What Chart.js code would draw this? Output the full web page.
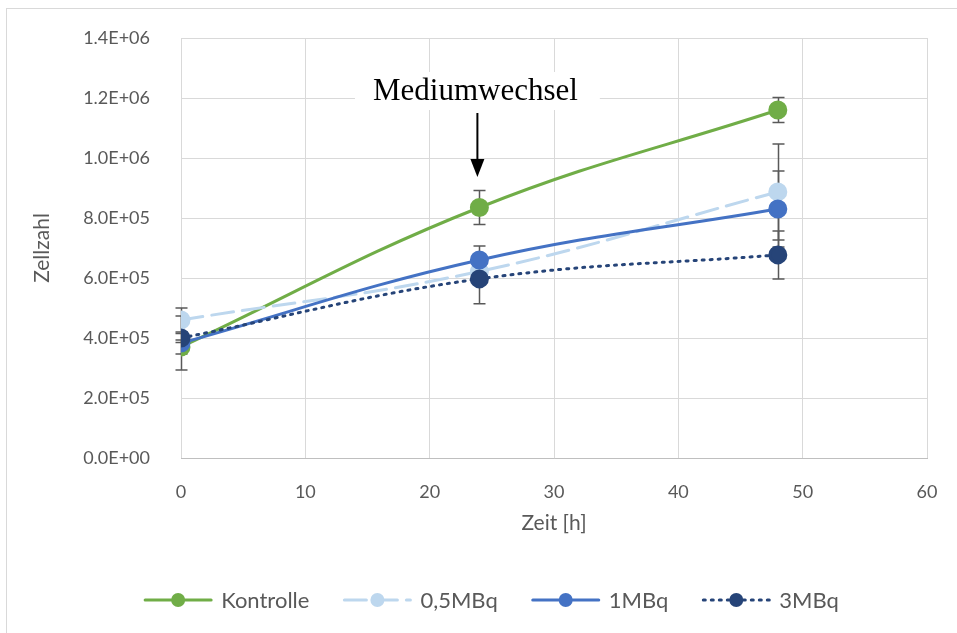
<!DOCTYPE html>
<html>
<head>
<meta charset="utf-8">
<script src="https://cdn.jsdelivr.net/npm/chart.js@4"></script>
<style>
  html, body { margin: 0; padding: 0; background: #fff; }
  #wrap { width: 957px; height: 633px; }
</style>
</head>
<body>
<div id="wrap"><canvas id="zellChart" width="957" height="633"></canvas></div>
<script>
// Zeitpunkte [h]
const times = [0, 24, 48];

// Zellzahl je Gruppe
const kontrolle = [370000, 835000, 1160000];
const mbq05 = [460000, 622000, 887000];
const mbq1 = [383000, 660000, 830000];
const mbq3 = [400000, 597000, 677000];

// Fehlerbalken (+/-)
const errKontrolle = [23000, 57000, 42000];
const errMbq05 = [40000, 30000, 160000];
const errMbq1 = [90000, 47000, 127000];
const errMbq3 = [15000, 83000, 80000];

const seriesNames = ['Kontrolle', '0,5MBq', '1MBq', '3MBq'];
const xTicks = [0, 10, 20, 30, 40, 50, 60];
const yTicks = [0, 200000, 400000, 600000, 800000, 1000000, 1200000, 1400000];

const annotText = 'Mediumwechsel';

const FONT = 'Lato, "Open Sans", sans-serif';

function sci(v) {
   if (v === 0) return '0.0E+00';
   const exp = Math.floor(Math.log10(v));
   const mant = v / Math.pow(10, exp);
   return mant.toFixed(1) + 'E+' + String(exp).padStart(2, '0');
}

function points(vals) {
   return vals.map((v, i) => ({ x: times[i], y: v }));
}

const colors = ['#70AD47', '#BDD7EE', '#4472C4', '#264478'];
const dashes = [[], [22, 9], [], [2, 6]];
const errors = [errKontrolle, errMbq05, errMbq1, errMbq3];
const values = [kontrolle, mbq05, mbq1, mbq3];

const datasets = values.map((vals, i) => ({
   label: seriesNames[i],
   data: points(vals),
   borderColor: colors[i],
   backgroundColor: colors[i],
   pointBackgroundColor: colors[i],
   pointBorderColor: colors[i],
   borderWidth: 3,
   borderDash: dashes[i],
   borderCapStyle: 'round',
   pointRadius: 8,
   pointHoverRadius: 8,
   tension: 0.4,
   order: 3 - i,
   errs: errors[i]
}));

// Fehlerbalken unter den Linien
const errorBars = {
   id: 'errorBars',
   beforeDatasetsDraw(chart) {
      const ctx = chart.ctx;
      const xs = chart.scales.x, ys = chart.scales.y;
      ctx.save();
      ctx.strokeStyle = '#595959';
      ctx.lineWidth = 1.5;
      chart.data.datasets.forEach(ds => {
         ds.data.forEach((p, i) => {
            const e = ds.errs[i];
            const px = Math.round(xs.getPixelForValue(p.x)) + 0.5;
            const top = ys.getPixelForValue(p.y + e);
            const bot = ys.getPixelForValue(p.y - e);
            ctx.beginPath();
            ctx.moveTo(px, top); ctx.lineTo(px, bot);
            ctx.moveTo(px - 6, top); ctx.lineTo(px + 6, top);
            ctx.moveTo(px - 6, bot); ctx.lineTo(px + 6, bot);
            ctx.stroke();
         });
      });
      ctx.restore();
   }
};

// Rahmen, Beschriftung "Mediumwechsel" und Legende
const extras = {
   id: 'extras',
   beforeDraw(chart) {
      const ctx = chart.ctx;
      ctx.save();
      ctx.fillStyle = '#fff';
      ctx.fillRect(0, 0, chart.width, chart.height);
      ctx.strokeStyle = '#D9D9D9';
      ctx.lineWidth = 1;
      ctx.strokeRect(6.5, 8.5, chart.width + 10, chart.height + 10);
      ctx.restore();
   },
   afterDraw(chart) {
      const ctx = chart.ctx;
      const xs = chart.scales.x, ys = chart.scales.y;
      const ax = xs.getPixelForValue(24) - 2;
      ctx.save();
      ctx.font = '31px "Liberation Serif", "Times New Roman", serif';
      const tw = ctx.measureText(annotText).width;
      const ty = ys.getPixelForValue(1220000);
      ctx.fillStyle = '#fff';
      ctx.fillRect(ax - tw / 2 - 20, ty - 20, tw + 40, 38);
      ctx.fillStyle = '#000';
      ctx.textAlign = 'center';
      ctx.textBaseline = 'middle';
      ctx.fillText(annotText, ax - 2, ty);
      const y1 = ys.getPixelForValue(1150000);
      const y2 = ys.getPixelForValue(937000);
      ctx.strokeStyle = '#000';
      ctx.lineWidth = 2;
      ctx.beginPath();
      ctx.moveTo(ax, y1); ctx.lineTo(ax, y2 - 14);
      ctx.stroke();
      ctx.beginPath();
      ctx.moveTo(ax - 7, y2 - 18); ctx.lineTo(ax + 7, y2 - 18); ctx.lineTo(ax, y2);
      ctx.closePath();
      ctx.fill();

      // Legende
      ctx.font = '22px ' + FONT;
      ctx.textBaseline = 'middle';
      ctx.textAlign = 'left';
      const lineLen = 70, gapText = 8, gapItem = 33;
      const widths = chart.data.datasets.map(ds => lineLen + gapText + ctx.measureText(ds.label).width);
      const total = widths.reduce((a, b) => a + b, 0) + gapItem * (widths.length - 1);
      let x = 491 - total / 2;
      const ly = 600;
      chart.data.datasets.forEach((ds, i) => {
         ctx.strokeStyle = ds.borderColor;
         ctx.lineWidth = 3;
         ctx.lineCap = 'round';
         ctx.setLineDash(ds.borderDash);
         ctx.beginPath();
         ctx.moveTo(x + 2, ly); ctx.lineTo(x + lineLen - 2, ly);
         ctx.stroke();
         ctx.setLineDash([]);
         ctx.fillStyle = ds.borderColor;
         ctx.beginPath();
         ctx.arc(x + lineLen / 2, ly, 7, 0, Math.PI * 2);
         ctx.fill();
         ctx.fillStyle = '#595959';
         ctx.fillText(ds.label, x + lineLen + gapText, ly + 1);
         x += widths[i] + gapItem;
      });
      ctx.restore();
   }
};

new Chart(document.getElementById('zellChart').getContext('2d'), {
   type: 'line',
   data: { datasets: datasets },
   options: {
      responsive: false,
      animation: false,
      devicePixelRatio: 1,
      layout: { padding: { left: 26, top: 38, right: 30, bottom: 93 } },
      scales: {
         x: {
            type: 'linear',
            min: 0,
            max: 60,
            afterFit: s => { s.height = 82; s.paddingLeft = 0; s.paddingRight = 0; },
            afterBuildTicks: s => { s.ticks = xTicks.map(v => ({ value: v })); },
            grid: { color: '#D9D9D9', lineWidth: 1, drawTicks: false },
            border: { color: '#BFBFBF', width: 1 },
            ticks: { color: '#595959', font: { family: FONT, size: 18 }, padding: 23 },
            title: { display: true, text: 'Zeit [h]', color: '#595959', font: { family: FONT, size: 21 } }
         },
         y: {
            min: 0,
            max: 1400000,
            afterFit: s => { s.width = 155; s.paddingTop = 0; s.paddingBottom = 0; },
            afterBuildTicks: s => { s.ticks = yTicks.map(v => ({ value: v })); },
            grid: { color: '#D9D9D9', lineWidth: 1, drawTicks: false },
            border: { display: false },
            ticks: { color: '#595959', font: { family: FONT, size: 18 }, padding: 31, callback: v => sci(v) },
            title: { display: true, text: 'Zellzahl', color: '#595959', font: { family: FONT, size: 21 } }
         }
      },
      plugins: { legend: { display: false }, tooltip: { enabled: false } }
   },
   plugins: [errorBars, extras]
});
</script>
</body>
</html>
